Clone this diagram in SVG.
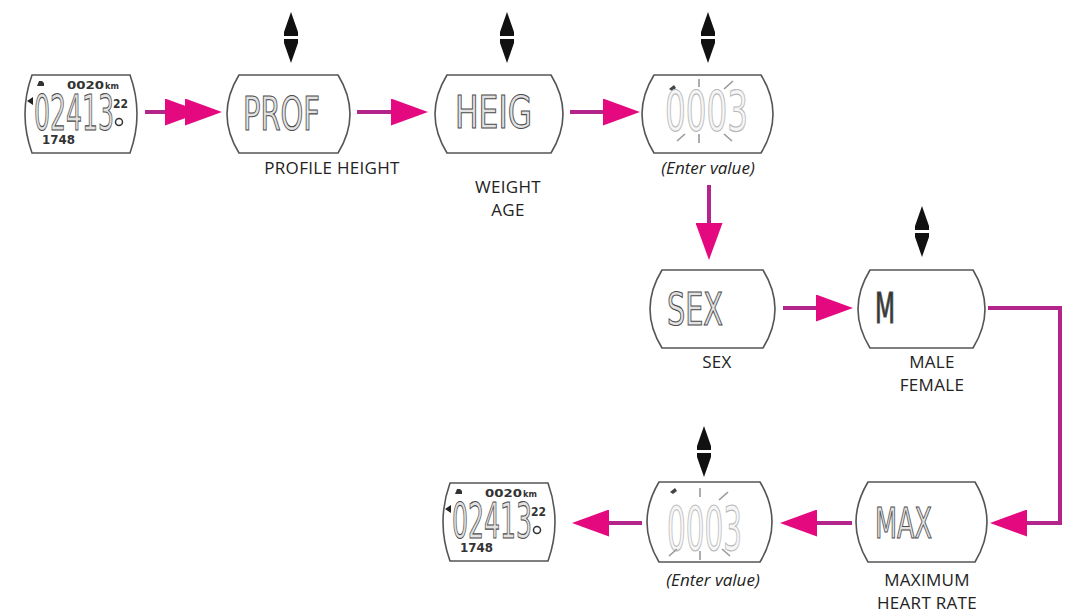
<svg xmlns="http://www.w3.org/2000/svg" xmlns:xlink="http://www.w3.org/1999/xlink" width="1073" height="615" viewBox="0 0 1073 615">
<style>
.frame{fill:#fff;stroke:#555;stroke-width:1.6}
.lcd{font-family:"DejaVu Sans Condensed","DejaVu Sans",sans-serif;fill:#e2e2e2;stroke:#4a4a4a;stroke-width:1.1;opacity:0.99}
.lcdlight{font-family:"DejaVu Sans Condensed","DejaVu Sans",sans-serif;fill:#f6f6f6;stroke:#b8b8b8;stroke-width:1.2;opacity:0.99}
.ray{stroke:#999;stroke-width:1.6;fill:none}
.lbl{font-family:"Open Sans","Liberation Sans",sans-serif;font-size:17px;fill:#222;text-anchor:middle;letter-spacing:0.3px}
.ital{font-style:italic;letter-spacing:0}
.conn{fill:none;stroke:#b4258c;stroke-width:4}
.wsmall{font-family:"DejaVu Sans Condensed","DejaVu Sans",sans-serif;fill:#333;font-weight:bold}
</style>
<defs>
<marker id="ah" markerUnits="userSpaceOnUse" viewBox="0 0 37 27" markerWidth="37" markerHeight="27" refX="2" refY="13.5" orient="auto">
<path d="M0,0 L37,13.5 L0,27 Z" fill="#e4097f"/>
</marker>
<g id="updown">
<path d="M0,0 L7,20 L7,24 L-7,24 L-7,20 Z" fill="#111"/>
<path d="M-7,27 L7,27 L7,31 L0,51 L-7,31 Z" fill="#111"/>
</g>
<g id="watchface">
<path class="frame" d="M12,0 H110 Q124,39 110,78 H12 Q-2,39 12,0 Z"/>
<path d="M17,11 h7 v-3 l-2,-2 h-3 z" fill="#333"/>
<text class="wsmall" x="47" y="14" font-size="11" textLength="37" lengthAdjust="spacingAndGlyphs">0020</text>
<text class="wsmall" x="85" y="14" font-size="9">km</text>
<path d="M7,26 L13,22 L13,30 Z" fill="#222"/>
<text class="lcd" x="14" y="55" font-size="50" textLength="80" lengthAdjust="spacingAndGlyphs">02413</text>
<text class="wsmall" x="93" y="33" font-size="12" textLength="15" lengthAdjust="spacingAndGlyphs">22</text>
<circle cx="99" cy="47" r="3.5" fill="none" stroke="#333" stroke-width="1.5"/>
<text class="wsmall" x="22" y="69" font-size="12" textLength="33" lengthAdjust="spacingAndGlyphs">1748</text>
</g>
</defs>
<rect width="1073" height="615" fill="#fff"/>

<g id="connectors">
<polyline class="conn" points="145,112 167,112 187,112" marker-mid="url(#ah)" marker-end="url(#ah)"/>
<line class="conn" x1="357" y1="112" x2="393" y2="112" marker-end="url(#ah)"/>
<line class="conn" x1="570" y1="112" x2="605" y2="112" marker-end="url(#ah)"/>
<line class="conn" x1="709" y1="185" x2="709" y2="225" marker-end="url(#ah)"/>
<line class="conn" x1="783" y1="308" x2="818" y2="308" marker-end="url(#ah)"/>
<polyline class="conn" points="988,308 1060,308 1060,523 1025,523" marker-end="url(#ah)"/>
<line class="conn" x1="852" y1="523" x2="815" y2="523" marker-end="url(#ah)"/>
<line class="conn" x1="642" y1="523" x2="607" y2="523" marker-end="url(#ah)"/>
</g>

<g id="watch-start">
<use xlink:href="#watchface" transform="translate(20,75)"/>
</g>

<g id="node-prof">
<use xlink:href="#updown" transform="translate(291,12)"/>
<path class="frame" d="M239,75 H338 Q362,114 338,153 H239 Q215,114 239,75 Z"/>
<text class="lcd" x="243" y="130" font-size="46" textLength="77" lengthAdjust="spacingAndGlyphs">PROF</text>
<text class="lbl" x="332" y="174">PROFILE HEIGHT</text>
</g>

<g id="node-heig">
<use xlink:href="#updown" transform="translate(507,12)"/>
<path class="frame" d="M447,75 H551 Q575,114 551,153 H447 Q423,114 447,75 Z"/>
<text class="lcd" x="455" y="128" font-size="44" textLength="77" lengthAdjust="spacingAndGlyphs">HEIG</text>
<text class="lbl" x="508" y="193">WEIGHT</text>
<text class="lbl" x="508" y="216">AGE</text>
</g>

<g id="node-enter1">
<use xlink:href="#updown" transform="translate(708,12)"/>
<path class="frame" d="M654,75 H761 Q785,114 761,153 H654 Q630,114 654,75 Z"/>
<path d="M669,89 l5,-4 l2,3 l-4,3 z" fill="#444"/>
<text class="lcdlight" x="665" y="130" font-size="56" textLength="83" lengthAdjust="spacingAndGlyphs">0003</text>
<line class="ray" x1="699" y1="79" x2="699" y2="87"/>
<line class="ray" x1="724" y1="89" x2="733" y2="81"/>
<line class="ray" x1="677" y1="141" x2="685" y2="134"/>
<line class="ray" x1="699" y1="134" x2="699" y2="143"/>
<line class="ray" x1="724" y1="134" x2="732" y2="141"/>
<text class="lbl ital" x="708" y="174">(Enter value)</text>
</g>

<g id="node-sex">
<path class="frame" d="M662,270 H763 Q787,309 763,348 H662 Q638,309 662,270 Z"/>
<text class="lcd" x="667" y="325" font-size="44" textLength="56" lengthAdjust="spacingAndGlyphs">SEX</text>
<text class="lbl" x="717" y="368">SEX</text>
</g>

<g id="node-m">
<use xlink:href="#updown" transform="translate(922,206)"/>
<path class="frame" d="M870,270 H973 Q997,309 973,348 H870 Q846,309 870,270 Z"/>
<text class="lcd" x="875" y="323" font-size="42" textLength="20" lengthAdjust="spacingAndGlyphs" style="fill:#333">M</text>
<text class="lbl" x="932" y="368">MALE</text>
<text class="lbl" x="932" y="391">FEMALE</text>
</g>

<g id="node-max">
<path class="frame" d="M868,482 H975 Q999,522 975,562 H868 Q844,522 868,482 Z"/>
<text class="lcd" x="875" y="538" font-size="43" textLength="57" lengthAdjust="spacingAndGlyphs">MAX</text>
<text class="lbl" x="927" y="586">MAXIMUM</text>
<text class="lbl" x="927" y="609">HEART RATE</text>
</g>

<g id="node-enter2">
<use xlink:href="#updown" transform="translate(704,426)"/>
<path class="frame" d="M659,482 H760 Q784,522 760,562 H659 Q635,522 659,482 Z"/>
<path d="M670,492 l5,-4 l2,3 l-4,3 z" fill="#444"/>
<text class="lcdlight" x="667" y="550" font-size="60" textLength="75" lengthAdjust="spacingAndGlyphs">0003</text>
<line class="ray" x1="700" y1="488" x2="700" y2="497"/>
<line class="ray" x1="719" y1="500" x2="728" y2="492"/>
<line class="ray" x1="669" y1="556" x2="677" y2="549"/>
<line class="ray" x1="700" y1="551" x2="700" y2="560"/>
<line class="ray" x1="722" y1="549" x2="730" y2="556"/>
<text class="lbl ital" x="713" y="586">(Enter value)</text>
</g>

<g id="watch-end">
<use xlink:href="#watchface" transform="translate(438,483)"/>
</g>
</svg>
